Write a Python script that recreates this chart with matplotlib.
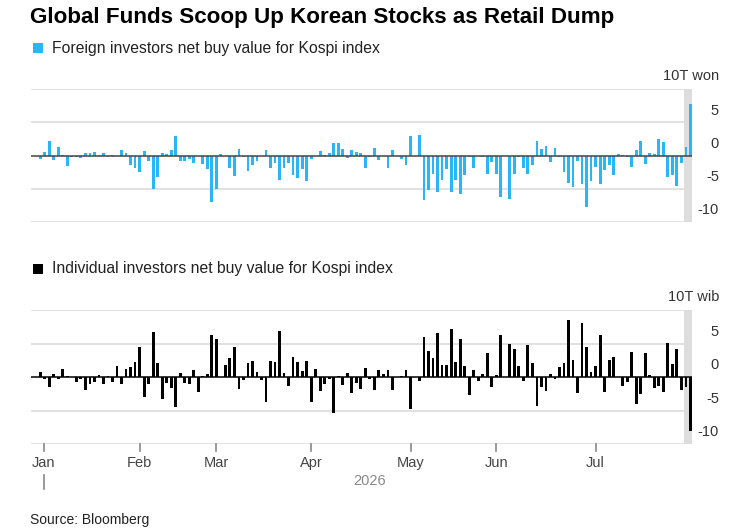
import matplotlib
matplotlib.use("Agg")
import matplotlib.pyplot as plt
import matplotlib.transforms as mtransforms
from matplotlib.patches import Rectangle
from matplotlib.lines import Line2D

plt.rcParams['font.family'] = ['Liberation Sans', 'DejaVu Sans']

foreign = [
    -0.5, 0.6, 2.2, -0.65, 1.25, 0.05, -1.6, -0.3, -0.25, -0.4,
    0.35, 0.45, 0.55, 0.05, 0.45, -0.25, 0.15, -0.1, 0.85, 0.45,
    -1.5, -1.95, -2.45, 0.7, -0.9, -5.0, -3.3, 0.45, 0.2, 0.85,
    3.0, -0.9, -0.9, -0.6, -1.1, 0.0, -1.25, -2.1, -7.0, -5.1,
    0.2, 0.0, -1.95, -3.15, 0.95, -0.3, -2.35, -1.45, -0.8, -0.15,
    0.85, -1.85, -1.15, -3.65, -1.95, -1.15, -2.9, -3.4, -2.0, -3.8,
    -0.6, 0.0, 0.75, 0.1, 0.35, 1.85, 1.85, 1.0, -0.45, 0.8,
    0.5, 0.45, -1.95, -0.2, 1.1, -0.65, 0.0, -1.9, 0.8, -0.15,
    -0.55, -1.45, 2.9, 0.0, 3.1, -6.7, -5.25, -2.8, -5.55, -3.65,
    -2.05, -5.55, -3.65, -5.75, -2.9, -0.2, -1.95, 0.0, -0.25, -2.75,
    -1.0, -2.8, -6.3, 0.0, -6.6, -2.75, -0.25, -1.95, -2.8, -1.45,
    2.15, 1.0, 1.45, -1.0, 1.2, -0.3, -2.55, -4.2, -4.7, -0.9,
    -4.35, -7.8, -3.8, -1.7, -4.35, -2.2, -1.4, -2.9, 0.3, 0.1,
    -0.3, -1.7, 0.9, 2.2, -1.35, 0.45, 0.2, 2.55, 2.05, -3.3,
    -2.95, -4.55, -1.2, 1.25, 7.7,
]

individual = [
    0.75, -0.35, -1.5, 0.5, -0.25, 1.15, 0.1, 0.0, -0.75, -0.35,
    -1.9, -1.0, -0.75, 0.25, -1.05, 0.1, -0.75, 1.65, -1.05, 1.15,
    1.5, 2.25, 4.55, -2.95, -1.0, 6.75, 2.1, -3.35, -0.95, -1.65,
    -4.5, 0.6, -0.95, -1.0, 1.0, -2.3, 0.15, 0.4, 6.2, 5.7,
    0.0, 1.8, 2.9, 4.5, -1.85, -0.5, 2.15, 2.4, 0.7, -0.5,
    -3.8, 2.35, 2.2, 6.9, 0.65, -1.3, 3.0, 2.2, 0.9, 2.4,
    -3.7, 1.15, -2.05, -1.05, -0.3, -5.35, 0.2, -1.2, 0.65, -2.35,
    -0.95, -1.85, 1.4, -0.25, -1.95, 1.1, 0.4, 1.1, -2.0, -0.05,
    0.1, 1.1, -4.8, 0.0, -0.55, 5.95, 3.9, 2.85, 6.6, 1.85,
    1.85, 7.1, 2.2, 5.6, 1.65, -2.65, 1.0, -0.55, 0.4, 3.55,
    -1.45, 0.35, 6.3, 0.0, 4.9, 4.2, 1.7, -0.6, 4.8, 2.05,
    -4.3, -1.5, -2.1, 0.45, -0.35, 1.55, 2.1, 8.45, 2.55, -2.45,
    8.1, 4.5, 0.8, 1.65, 6.2, -2.3, 2.55, 3.0, 0.0, -1.3,
    -0.8, 3.8, -4.1, -2.5, 3.6, 0.3, -1.65, -1.3, -2.2, 5.1,
    1.95, 4.25, -1.95, -1.5, -8.1,
]

month_labels = ["Jan", "Feb", "Mar", "Apr", "May", "Jun", "Jul"]
month_pos = [0.8, 22.05, 39.0, 60.05, 82.05, 101.05, 123.0]
y_ticks = [5, 0, -5, -10]
year_label = "2026"

W, H = 741, 531
fig = plt.figure(figsize=(W / 100, H / 100), dpi=100)
fig.patch.set_facecolor("white")

def fx(px):
    return px / W

def fy(py):
    return 1 - py / H

x0, x1 = 31, 692
xlim = (-2.05, 144.35)
blue = "#29b6f6"
grid_c = "#dcdcdc"

def make_axes(top_px, bot_px, values, color, zero_c, unit_label):
    ax = fig.add_axes([fx(x0), fy(bot_px), fx(x1 - x0), (bot_px - top_px) / H])
    ax.set_xlim(*xlim)
    ax.set_ylim(-10, 10)
    for s in ax.spines.values():
        s.set_visible(False)
    ax.set_xticks([])
    ax.set_yticks([])
    ax.axvspan(142.6, 144.35, color="#dddddd", zorder=0, lw=0)
    for v in [10, 5, -5, -10]:
        ax.axhline(v, color=grid_c, lw=1.2, zorder=1)
    xs = list(range(len(values)))
    ax.bar(xs, values, width=0.62, color=color, zorder=2, lw=0)
    ax.axhline(0, color=zero_c, lw=1.1, zorder=3)
    trans = mtransforms.blended_transform_factory(ax.transAxes, ax.transData)
    xr = (719 - x0) / (x1 - x0)
    for v in y_ticks:
        ax.text(xr, v + 1.75, str(v), transform=trans, ha="right", va="center",
                fontsize=10.5, color="#333333")
    ax.text(xr, 10 + 2.0, unit_label, transform=trans, ha="right", va="center",
            fontsize=10.5, color="#333333")
    return ax

ax1 = make_axes(89, 222, foreign, blue, "#444444", "10T won")
ax2 = make_axes(310, 444, individual, "#000000", "#000000", "10T wib")

# month ticks and labels on bottom axes
trans2 = mtransforms.blended_transform_factory(ax2.transData, fig.transFigure)
for p, lab in zip(month_pos, month_labels):
    ax2.add_line(Line2D([p, p], [fy(444), fy(451)], transform=trans2,
                        color="#888888", lw=1.2, clip_on=False))
    ax2.text(p, fy(463), lab, transform=trans2, ha="center", va="center",
             fontsize=10.5, color="#444444")
ax2.add_line(Line2D([month_pos[0], month_pos[0]], [fy(475), fy(489)], transform=trans2,
                    color="#888888", lw=1.2, clip_on=False))
fig.text(fx(370), fy(481), year_label, ha="center", va="center", fontsize=10.5,
         color="#888888")

# title and legends
fig.text(fx(30), fy(18), "Global Funds Scoop Up Korean Stocks as Retail Dump",
         ha="left", va="center", fontsize=16.1, fontweight="bold", color="#000000")
fig.patches.append(Rectangle((fx(33), fy(53)), fx(10), 10 / H, transform=fig.transFigure,
                             facecolor=blue, edgecolor="none"))
fig.text(fx(52), fy(48), "Foreign investors net buy value for Kospi index",
         ha="left", va="center", fontsize=11.3, color="#222222")
fig.patches.append(Rectangle((fx(33), fy(274)), fx(10), 10 / H, transform=fig.transFigure,
                             facecolor="#000000", edgecolor="none"))
fig.text(fx(52), fy(269), "Individual investors net buy value for Kospi index",
         ha="left", va="center", fontsize=11.3, color="#222222")
fig.text(fx(30), fy(520), "Source: Bloomberg", ha="left", va="center",
         fontsize=10, color="#222222")

fig.savefig("out.png", dpi=100, facecolor="white")
